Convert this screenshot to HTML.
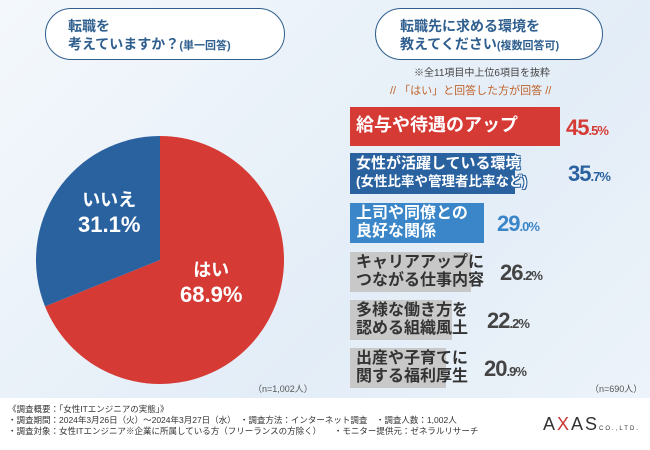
<!DOCTYPE html>
<html><head><meta charset="utf-8"><style>
body{margin:0;width:650px;height:450px;overflow:hidden;font-family:"Liberation Sans","Noto Sans CJK JP",sans-serif;background:linear-gradient(135deg,#f4f8fc,#e3edf7 60%,#eef4fa);position:relative}
.pill{position:absolute;border:1.5px solid #2f5f8f;border-radius:28px;background:#fff;color:#2f5f8f;font-weight:bold;font-size:14px;line-height:18px;padding:8px 0 0 0;box-sizing:border-box}
.t{position:absolute;white-space:nowrap}
.bar{position:absolute;left:350px}
.lab{position:absolute;left:356px;font-weight:bold;line-height:18px;white-space:nowrap}
.val{position:absolute;font-weight:bold;font-size:22px;white-space:nowrap;letter-spacing:-1px}
.val small{font-size:13px}
</style></head><body>
<div class="pill" style="left:45px;top:8px;width:240px;height:52px;padding-left:22px">転職を<br>考えていますか？<span style="font-size:11px">(単一回答)</span></div>
<div class="pill" style="left:375px;top:8px;width:228px;height:52px;padding-left:24px">転職先に求める環境を<br>教えてください<span style="font-size:11px">(複数回答可)</span></div>
<div class="t" style="left:414px;top:64px;font-size:10px;color:#444">※全11項目中上位6項目を抜粋</div>
<div class="t" style="left:390px;top:82px;font-size:11px;color:#c0632a">// 「はい」と回答した方が回答 //</div>
<svg width="650" height="450" style="position:absolute;left:0;top:0">
<g id="pie"></g>
</svg>
<div class="t" style="left:78px;top:186px;color:#fff;font-weight:bold;font-size:18px;text-align:center">いいえ<br><span style="font-size:22px">31.1%</span></div>
<div class="t" style="left:180px;top:256px;color:#fff;font-weight:bold;font-size:18px;text-align:center">はい<br><span style="font-size:22px">68.9%</span></div>
<div id="bars"></div>
<div class="t" style="left:253px;top:382px;font-size:9px;color:#555">（n=1,002人）</div>
<div class="t" style="left:590px;top:382px;font-size:9px;color:#555">（n=690人）</div>
<div style="position:absolute;left:0;top:398px;width:650px;height:52px;background:#fff;font-size:8.5px;color:#333;line-height:11px;padding:6px 0 0 8px;box-sizing:border-box">
《調査概要：「女性ITエンジニアの実態」》<br>・調査期間：2024年3月26日（火）～2024年3月27日（水）　・調査方法：インターネット調査　・調査人数：1,002人<br>・調査対象：女性ITエンジニア※企業に所属している方（フリーランスの方除く）　　・モニター提供元：ゼネラルリサーチ</div>
<div class="t" style="left:543px;top:414px;font-size:18px;color:#333;letter-spacing:2px">A<span style="color:#c33">X</span>AS<span style="font-size:6px">CO.,LTD.</span></div>
<script>
const pieLabels=["はい","いいえ"];
const pieValues=[68.9,31.1];
const barLabels=[["給与や待遇のアップ"],["女性が活躍している環境","(女性比率や管理者比率など)"],["上司や同僚との","良好な関係"],["キャリアアップに","つながる仕事内容"],["多様な働き方を","認める組織風土"],["出産や子育てに","関する福利厚生"]];
const barValues=[45.5,35.7,29.0,26.2,22.2,20.9];
const pieColors=["#d63a35","#2a62a0"];
const cx=160,cy=260,r=124;
const g=document.getElementById('pie');
const tot=pieValues.reduce((a,b)=>a+b,0);
let a0=0;
pieValues.forEach((v,i)=>{
 const a1=a0+v/tot*2*Math.PI;
 const p=(a)=>[cx+r*Math.sin(a),cy-r*Math.cos(a)];
 const [x0,y0]=p(a0),[x1,y1]=p(a1);
 const path=document.createElementNS('http://www.w3.org/2000/svg','path');
 path.setAttribute('d',`M${cx},${cy}L${x0},${y0}A${r},${r} 0 ${a1-a0>Math.PI?1:0} 1 ${x1},${y1}Z`);
 path.setAttribute('fill',pieColors[i]);
 
 
 g.appendChild(path);a0=a1;
});
const bars=document.getElementById('bars');
const rowTop=[107,153,203,252,300,348];
const rowH=[39,41,40,40,40,40];
const scale=210/45.5;
const outline=c=>`text-shadow:-1px -1px 0 ${c},1px -1px 0 ${c},-1px 1px 0 ${c},1px 1px 0 ${c};`;
barValues.forEach((v,i)=>{
 const w=v*scale;
 const col=i==0?'#d63a35':i==1?'#2a62a0':i==2?'#3a86c8':'#c8c8c8';
 const txt=i<3?'#fff':'#333';
 const b=document.createElement('div');b.className='bar';
 
 
 b.style.cssText+=`top:${rowTop[i]}px;height:${rowH[i]}px;width:${w}px;background:${col}`;
 bars.appendChild(b);
 const l=document.createElement('div');l.className='lab';
 
 
 const one=barLabels[i].length==1;
 let fs=one?18:16;
 if(i==1)fs=15;
 l.style.cssText+=`top:${rowTop[i]+(one?9:2)}px;color:${txt};font-size:${fs}px;`+(i<3?outline(col):'');
 l.innerHTML=barLabels[i].map((s,k)=>k==1&&i==1?`<span style="font-size:13.5px">${s}</span>`:s).join('<br>');
 bars.appendChild(l);
 const vx=[566,568,497,500,487,484][i];
 const vc=i==0?'#d63a35':i==1?'#2a62a0':i==2?'#3a86c8':'#444';
 const s=v.toFixed(1).split('.');
 const t=document.createElement('div');t.className='val';
 
 
 t.style.cssText+=`left:${vx}px;top:${rowTop[i]+8}px;color:${vc}`;
 t.innerHTML=`${s[0]}<small>.${s[1]}%</small>`;
 bars.appendChild(t);
});
</script>
</body></html>
